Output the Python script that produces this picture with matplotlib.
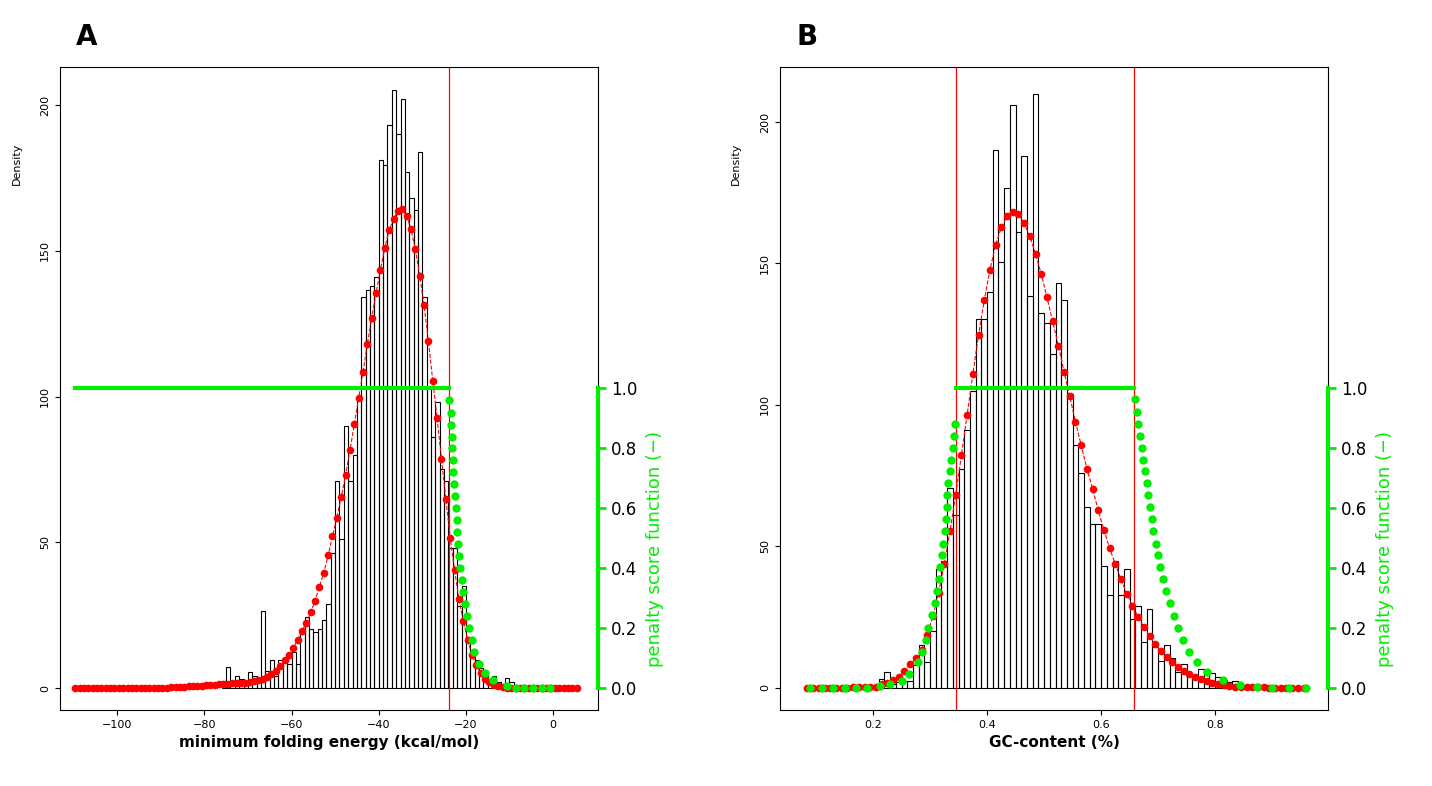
import matplotlib
matplotlib.use("Agg")
import matplotlib.pyplot as plt
import numpy as np

GREEN = "#00ee00"

# ---- panel A: minimum folding energy ----
a_start, a_width = -76, 1.0
a_hist = [2.4, 7.3, 2.4, 4.3, 3.3, 1.5, 5.4, 4, 2.4, 26.4, 6, 9.5, 4.3, 9.5, 8.8, 8.4,
          12.5, 8.4, 19.6, 24.4, 20.3, 19.2, 20.3, 23.3, 29, 46.3, 71, 51, 90, 71, 80,
          99, 134, 136.6, 138, 141, 181, 179.5, 193, 205, 190, 202, 177, 168, 164, 184,
          134, 103, 86, 98, 75, 71, 48, 48, 28, 35, 17.6, 12.5, 9.5, 6.8, 4.8, 2.7, 4.3,
          2, 1, 3.4, 2, 0.8, 0.5]
a_red_x0 = -109.6
a_red = ([0.0] * 15 + [0.1] * 5 + [0.2, 0.2, 0.3, 0.3, 0.4, 0.5, 0.6, 0.7, 0.8, 0.9,
         1.0, 1.1, 1.2, 1.3, 1.4, 1.5, 1.6, 1.7, 1.8, 1.9]
         + [2, 2.4, 2.8, 3.3, 3.8, 4.8, 6, 7.5, 9.6, 11.4, 13.8, 16.5, 19.6, 22.4, 26,
            30, 34.8, 39.5, 45.5, 52, 58.5, 65.5, 73, 81.5, 90.5, 99.6, 108.4, 118, 127,
            135.5, 143.5, 151, 157, 161, 163.5, 164.2, 162, 157.5, 150.5, 141.5, 131.4,
            119, 105.4, 92.5, 78.5, 65, 51.5, 40.6, 30.5, 23, 16.5, 11.5, 7.8, 5.2, 3.3,
            2, 1.2, 0.7, 0.4, 0.2] + [0.0] * 16)
a_cut = -23.8
a_green_x = [-23.78, -23.47, -23.4, -23.25, -23.1, -22.94, -22.86, -22.64, -22.48, -22.33,
             -22.1, -21.95, -21.72, -21.5, -21.3, -20.9, -20.7, -20.2, -19.8, -19.2,
             -18.6, -18.1, -17.1, -15.6, -13.7, -10.6, -8.6, -6.6, -4.6, -2.6, -0.6]
a_green_y = [0.96, 0.917, 0.877, 0.838, 0.80, 0.76, 0.72, 0.68, 0.64, 0.60, 0.56, 0.52,
             0.48, 0.44, 0.40, 0.36, 0.32, 0.28, 0.24, 0.20, 0.16, 0.12, 0.08, 0.05,
             0.026, 0.007, 0, 0, 0, 0, 0]

# ---- panel B: GC-content ----
b_start, b_width = 0.18, 0.01
b_hist = [0.5, 0.5, 0.5, 3.0, 5.6, 1.4, 2, 2.4, 2.4, 8, 15, 9.3,
          20, 42, 44.7, 70.8, 61, 77.5, 91, 105, 130.5, 130.5, 140, 190, 150.6, 176.5,
          206, 161, 188, 138.5, 210, 132.5, 129, 118, 143, 137, 104, 86, 76, 64, 58, 58,
          43, 33, 44.7, 33, 42, 24.3, 29, 16.4, 28, 14.6, 9.4, 15.3, 10.4, 5.6, 8.3, 4.9,
          4.2, 6.7, 5.8, 5.3, 3.9, 2.8, 2, 2.4, 1, 0.8, 0.5, 0.5, 0.5, 0.5]
b_red_x0 = 0.085
b_red = ([0.0] * 6 + [0.1, 0.1, 0.2, 0.2, 0.3, 0.3, 0.5, 1.4, 1.8, 2.8, 4, 6, 8.3, 10.4,
         13.5, 18.7, 25.4, 33.7, 43.7, 55.5, 68.3, 82.2, 96.5, 110.8, 124.6, 137, 147.8,
         156.6, 162.7, 166.6, 168.2, 167.5, 164.2, 159.6, 153.4, 146.2, 138.1, 129.5, 121,
         111.7, 103, 94.1, 85.8, 77.5, 70.4, 62.7, 55.8, 49.3, 43.7, 38.4, 33.3, 29.1, 25,
         21.5, 18.3, 15.5, 12.9, 10.8, 9, 7.4, 6, 4.9, 3.9, 3.1, 2.5, 1.8, 1.4, 1.0, 0.7,
         0.5, 0.4, 0.3, 0.3, 0.2, 0.2, 0.1, 0.1, 0.1, 0.0, 0.0, 0.0, 0.0])
b_cut_lo, b_cut_hi = 0.345, 0.658
b_green_lx = [0.09, 0.11, 0.13, 0.15, 0.17, 0.19, 0.2123, 0.2298, 0.2503, 0.2637, 0.2795,
              0.2854, 0.293, 0.2971, 0.303, 0.3088, 0.3117, 0.3152, 0.3175, 0.3205,
              0.3234, 0.3263, 0.328, 0.3292, 0.3304, 0.3322, 0.335, 0.3368, 0.341,
              0.3427, 0.3439]
b_green_ly = [0, 0, 0, 0, 0, 0, 0.007, 0.013, 0.024, 0.046, 0.086, 0.121, 0.161, 0.20,
              0.244, 0.284, 0.323, 0.363, 0.402, 0.442, 0.48, 0.524, 0.563, 0.603, 0.642,
              0.682, 0.722, 0.761, 0.80, 0.84, 0.88]
b_green_rx = [0.6596, 0.6626, 0.6655, 0.6684, 0.6713, 0.6743, 0.6772, 0.6801, 0.683,
              0.686, 0.6889, 0.6918, 0.6959, 0.6994, 0.7035, 0.7082, 0.714, 0.721,
              0.7287, 0.7357, 0.7444, 0.755, 0.769, 0.7865, 0.8146, 0.8439, 0.873,
              0.90, 0.93, 0.96]
b_green_ry = [0.963, 0.92, 0.88, 0.84, 0.80, 0.761, 0.722, 0.682, 0.642, 0.603, 0.563,
              0.524, 0.48, 0.442, 0.402, 0.363, 0.323, 0.284, 0.24, 0.20, 0.161, 0.121,
              0.086, 0.053, 0.026, 0.01, 0.003, 0, 0, 0]


def draw_panel(ax, start, width, hist, red_x0, red_step, red, xlim, ylim, xticks, xticklabels,
               xlabel, letter):
    edges = start + width * np.arange(len(hist))
    ax.bar(edges, hist, width, align="edge", fill=False, edgecolor="black", linewidth=0.8)
    rx = red_x0 + red_step * np.arange(len(red))
    ax.plot(rx, red, color="red", linestyle="--", linewidth=0.8,
            marker="o", markersize=5.5, markeredgewidth=0)
    ax.set_xlim(*xlim)
    ax.set_ylim(*ylim)
    ax.set_yticks([0, 50, 100, 150, 200])
    ax.set_yticklabels(["0", "50", "100", "150", "200"], rotation=90, va="center", fontsize=8)
    ax.set_xticks(xticks)
    ax.set_xticklabels(xticklabels, fontsize=8)
    ax.set_xlabel(xlabel, fontsize=11, fontweight="bold")
    ax.text(-0.08, 0.85, "Density", transform=ax.transAxes, rotation=90, fontsize=8,
            ha="center", va="center")
    ax.text(0.03, 1.025, letter, transform=ax.transAxes, fontsize=20, fontweight="bold",
            va="bottom")
    for sp in ax.spines.values():
        sp.set_linewidth(0.8)
    tw = ax.twinx()
    tw.set_ylim(-0.073, 2.07)
    tw.set_yticks([0, 0.2, 0.4, 0.6, 0.8, 1.0])
    tw.set_yticklabels(["0.0", "0.2", "0.4", "0.6", "0.8", "1.0"], fontsize=12)
    tw.spines["right"].set_color(GREEN)
    tw.spines["right"].set_linewidth(3)
    tw.spines["right"].set_bounds(0, 1)
    for s in ["top", "left", "bottom"]:
        tw.spines[s].set_visible(False)
    tw.tick_params(axis="y", colors="black", color=GREEN, width=2, length=6)
    tw.set_ylabel("penalty score function (\u2212)", color=GREEN, fontsize=13,
                  y=0.25, labelpad=6)
    return tw


fig = plt.figure(figsize=(14.32, 7.86), dpi=100)
axA = fig.add_axes([0.0419, 0.0967, 0.3757, 0.818])
axB = fig.add_axes([0.5447, 0.0967, 0.3827, 0.818])

twA = draw_panel(axA, a_start, a_width, a_hist, a_red_x0, 1.0, a_red, (-113.1, 10.3),
                 (-7.5, 213), [-100, -80, -60, -40, -20, 0],
                 ["\u2212100", "\u221280", "\u221260", "\u221240", "\u221220", "0"],
                 "minimum folding energy (kcal/mol)", "A")
axA.axvline(a_cut, color="red", linewidth=0.9)
twA.plot([a_red_x0, a_cut], [1, 1], color=GREEN, linewidth=3)
twA.plot(a_green_x, a_green_y, linestyle="none", marker="o", markersize=6,
         color=GREEN, markeredgewidth=0)

twB = draw_panel(axB, b_start, b_width, b_hist, b_red_x0, 0.01, b_red, (0.0368, 0.998),
                 (-7.8, 219.4), [0.2, 0.4, 0.6, 0.8], ["0.2", "0.4", "0.6", "0.8"],
                 "GC-content (%)", "B")
axB.axvline(b_cut_lo, color="red", linewidth=0.9)
axB.axvline(b_cut_hi, color="red", linewidth=0.9)
twB.plot([b_cut_lo, b_cut_hi], [1, 1], color=GREEN, linewidth=3)
twB.plot(b_green_lx + b_green_rx, b_green_ly + b_green_ry, linestyle="none", marker="o",
         markersize=6, color=GREEN, markeredgewidth=0)

fig.savefig("out.png", dpi=100)
